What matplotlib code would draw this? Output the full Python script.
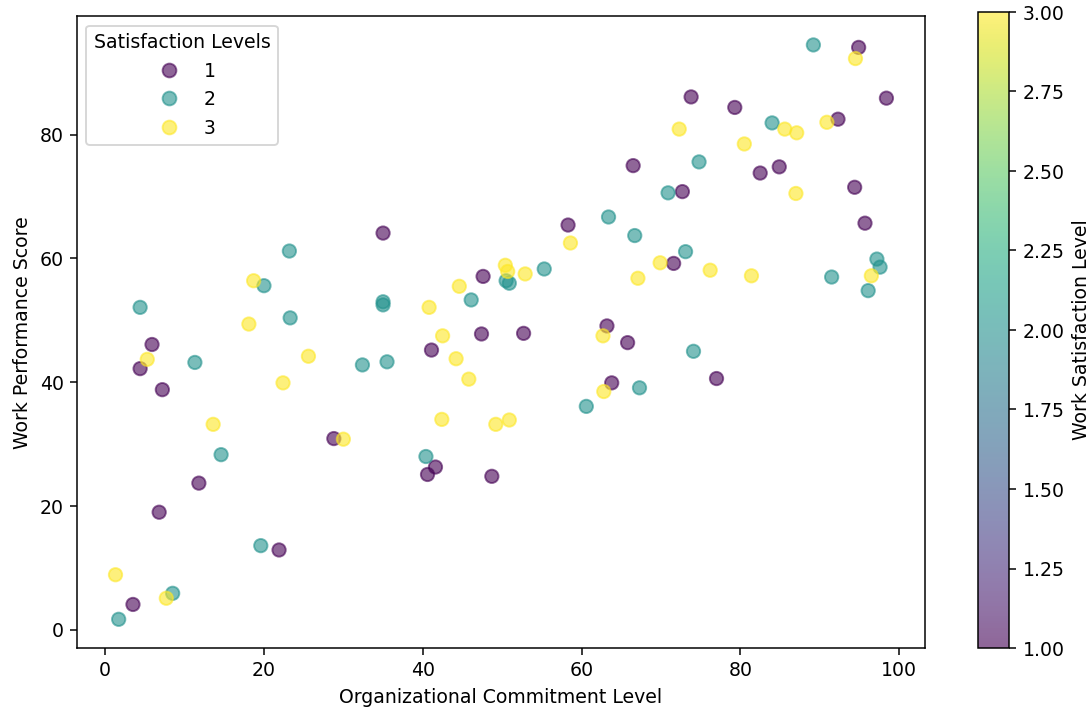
import numpy as np
import matplotlib
matplotlib.use("Agg")
import matplotlib.pyplot as plt

# (commitment, performance), one pair of lists per satisfaction level
commit_1 = [3.5, 6.8, 11.8, 4.4, 5.9, 7.2, 21.9, 28.8, 35.0, 41.1, 41.6, 40.6,
            47.6, 47.4, 52.7, 48.7, 58.3, 63.2, 65.8, 63.8, 66.5, 71.6, 72.7,
            73.8, 77.0, 79.3, 82.5, 84.9, 92.3, 94.4, 94.9, 95.7, 98.4]
perf_1 = [4.1, 19.0, 23.7, 42.2, 46.1, 38.8, 12.9, 30.9, 64.1, 45.2, 26.3, 25.1,
          57.1, 47.8, 47.9, 24.8, 65.4, 49.1, 46.4, 39.9, 75.0, 59.2, 70.8,
          86.1, 40.6, 84.4, 73.8, 74.8, 82.5, 71.5, 94.1, 65.7, 85.9]

commit_2 = [1.7, 8.5, 4.4, 11.3, 14.6, 19.6, 20.0, 23.2, 23.3, 32.4, 35.0, 35.0,
            35.5, 40.4, 46.1, 50.5, 50.9, 55.3, 60.6, 63.4, 66.7, 67.3, 70.9,
            73.1, 74.1, 74.8, 84.0, 89.2, 91.5, 96.1, 97.2, 97.6]
perf_2 = [1.7, 5.9, 52.1, 43.2, 28.3, 13.6, 55.6, 61.2, 50.4, 42.8, 53.0, 52.5,
          43.3, 28.0, 53.3, 56.4, 56.0, 58.3, 36.1, 66.7, 63.7, 39.1, 70.6,
          61.1, 45.0, 75.6, 81.9, 94.5, 57.0, 54.8, 59.9, 58.6]

commit_3 = [1.3, 7.7, 5.3, 13.6, 18.1, 18.7, 22.4, 25.6, 30.0, 40.8, 42.5, 42.4,
            44.2, 44.6, 45.8, 49.2, 50.4, 50.7, 50.9, 52.9, 58.6, 62.7, 62.8,
            67.1, 69.9, 72.3, 76.2, 80.5, 81.4, 85.6, 87.1, 87.0, 90.9, 94.5, 96.5]
perf_3 = [8.9, 5.1, 43.7, 33.2, 49.4, 56.4, 39.9, 44.2, 30.8, 52.1, 47.5, 34.0,
          43.8, 55.5, 40.5, 33.2, 58.9, 57.9, 33.9, 57.5, 62.5, 47.5, 38.5,
          56.8, 59.3, 80.9, 58.1, 78.5, 57.2, 80.9, 80.3, 70.5, 82.0, 92.3, 57.2]

commitment = np.array(commit_1 + commit_2 + commit_3)
performance = np.array(perf_1 + perf_2 + perf_3)
satisfaction = np.array([1] * len(commit_1) + [2] * len(commit_2) + [3] * len(commit_3))

# the reference looks like a default-styled figure rendered at ~136 dpi
fig = plt.figure(figsize=(1090 / 136, 709.1 / 136), dpi=136)
ax = fig.add_axes([0.0706, 0.086, 0.778, 0.891])
cax = fig.add_axes([0.897, 0.086, 0.029, 0.897])

sc = ax.scatter(commitment, performance, c=satisfaction, cmap='viridis',
                alpha=0.6, s=50)

cbar = fig.colorbar(sc, cax=cax)
cbar.set_label('Work Satisfaction Level')

handles, labels = sc.legend_elements(size=7.3)
ax.legend(handles, labels, title='Satisfaction Levels', loc='upper left')

ax.set_xlabel('Organizational Commitment Level')
ax.set_ylabel('Work Performance Score')

fig.savefig('out.png', dpi=136)
